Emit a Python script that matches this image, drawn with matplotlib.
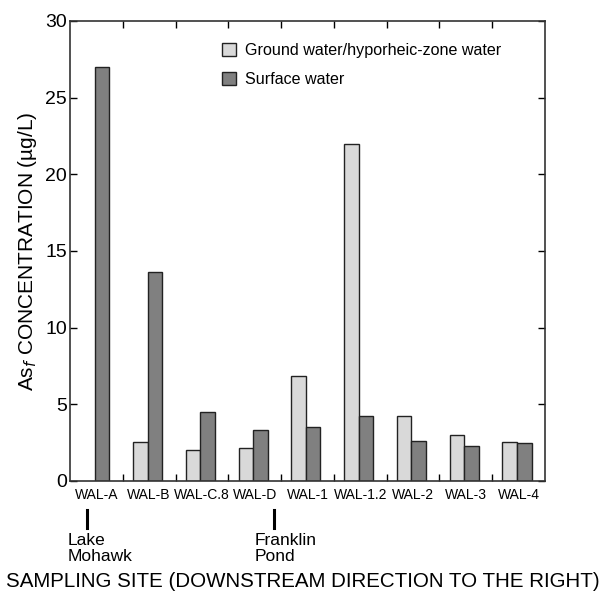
import matplotlib
matplotlib.use("Agg")
import matplotlib.pyplot as plt
import numpy as np

plt.rcParams["font.family"] = ["Liberation Sans", "DejaVu Sans"]

sites = ["WAL-A", "WAL-B", "WAL-C.8", "WAL-D", "WAL-1", "WAL-1.2", "WAL-2", "WAL-3", "WAL-4"]
ground = [np.nan, 2.55, 2.0, 2.15, 6.85, 22.0, 4.25, 3.0, 2.55]
surface = [27.0, 13.6, 4.5, 3.35, 3.55, 4.25, 2.6, 2.25, 2.45]
labels = ["Ground water/hyporheic-zone water", "Surface water"]

fig = plt.figure(figsize=(6.06, 5.98), dpi=100)
ax = fig.add_axes([0.1155, 0.1957, 0.7838, 0.7692])

x = np.arange(len(sites))
w = 0.275
off = -0.03
ax.bar(x + off - w / 2, ground, w, color="#d9d9d9", edgecolor="#222222", linewidth=1.0, label=labels[0])
ax.bar(x + off + w / 2, surface, w, color="#808080", edgecolor="#222222", linewidth=1.0, label=labels[1])

ax.set_xlim(-0.5, len(sites) - 0.5)
ax.set_ylim(0, 30)
ax.set_yticks(range(0, 31, 5))
ax.set_xticks(x)
ax.set_xticklabels(sites, fontsize=10)
ax.set_xticks(x[:-1] + 0.5, minor=True)
ax.tick_params(axis="x", which="major", length=0, pad=5)
ax.tick_params(axis="x", which="minor", direction="in", length=5, top=True, bottom=True, width=1)
ax.tick_params(axis="y", direction="in", length=5, right=True, width=1, labelsize=14, pad=2)
for s in ax.spines.values():
    s.set_linewidth(1.2)
    s.set_color("#333333")

ax.set_ylabel("As$_f$ CONCENTRATION (\u00b5g/L)", fontsize=15, labelpad=5)
fig.text(0.5, 0.028, "SAMPLING SITE (DOWNSTREAM DIRECTION TO THE RIGHT)", ha="center", va="center", fontsize=14.8)

leg = ax.legend(loc="upper left", bbox_to_anchor=(0.32, 0.952), frameon=False, fontsize=11.6,
                borderpad=0, borderaxespad=0, handlelength=0.85, handleheight=0.85,
                handletextpad=0.55, labelspacing=0.85)

# site markers below the axis
for xp, txt in [(87, "Lake\nMohawk"), (274, "Franklin\nPond")]:
    fig.add_artist(plt.Line2D([xp / 606, xp / 606], [1 - 510 / 598, 1 - 528 / 598], color="black", lw=2.2))
    fig.text((xp - 19) / 606, 1 - 533 / 598, txt, ha="left", va="top", fontsize=12.5, linespacing=1.05)

fig.savefig("out.png", dpi=100)
